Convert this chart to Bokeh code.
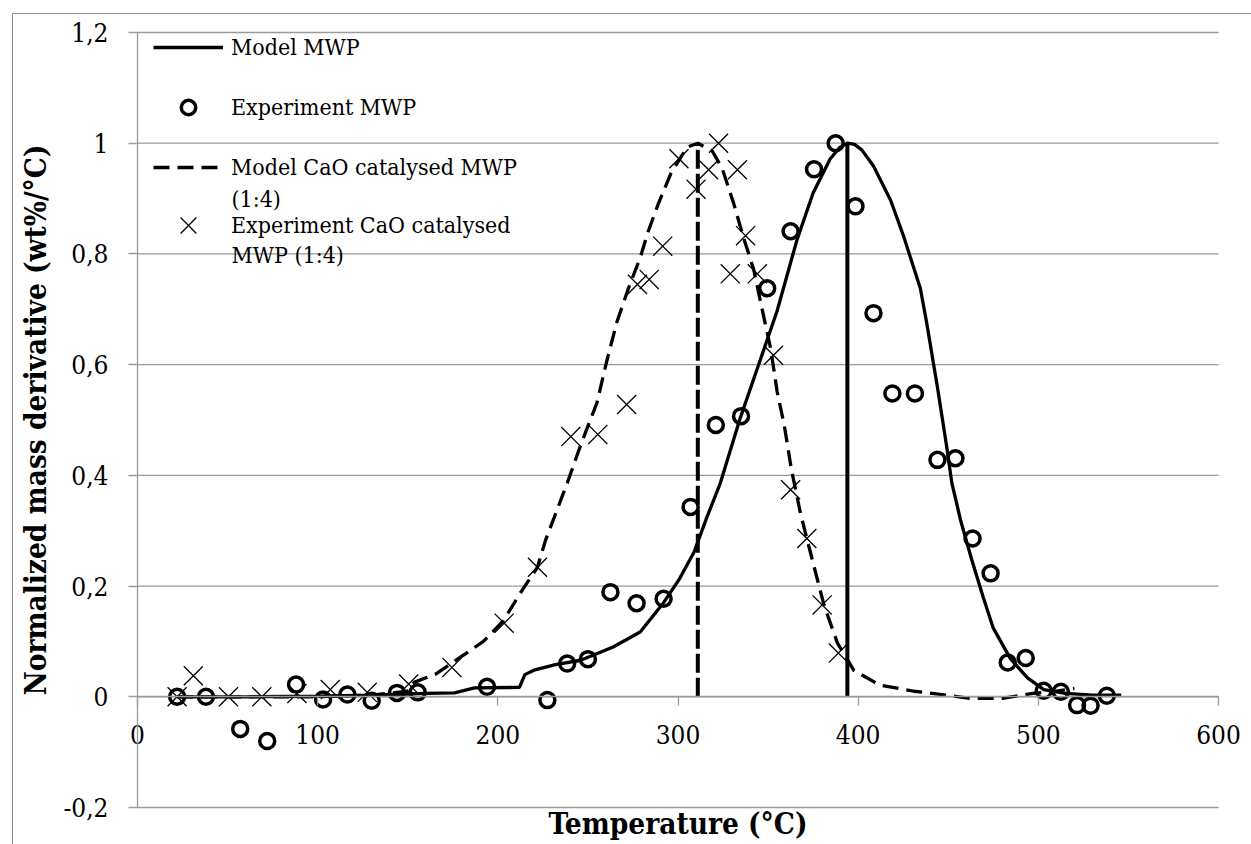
from bokeh.plotting import figure
from bokeh.models import (Range1d, LinearAxis, FixedTicker, CustomJSTickFormatter,
                          Legend, LegendItem, Label, ColumnDataSource)
from bokeh.embed import file_html
from bokeh.resources import INLINE

# ---------------- data ----------------
exp_mwp_T = [22, 38, 57, 72, 88, 103, 116.5, 130, 144, 155.5, 194, 227.5, 238.5, 250,
             262.5, 277, 292, 307, 321, 335, 349.5, 362.5, 375.5, 387.5, 398.5, 408.5,
             419, 431.5, 444, 454, 463.5, 473.5, 483, 493, 503, 512.5, 521.5, 529, 538]
exp_mwp_v = [0.0, 0.0, -0.058, -0.08, 0.022, -0.005, 0.004, -0.007, 0.007, 0.008, 0.018,
             -0.006, 0.06, 0.068, 0.189, 0.169, 0.177, 0.343, 0.491, 0.507, 0.738, 0.841,
             0.953, 1.0, 0.886, 0.693, 0.548, 0.548, 0.428, 0.431, 0.286, 0.223, 0.062,
             0.07, 0.011, 0.009, -0.015, -0.016, 0.002]

exp_cao_T = [22, 31, 50.5, 69, 88.5, 107, 127.5, 150.5, 174.5, 203.5, 222, 240.5, 255.5,
             271.5, 277.5, 284, 291.5, 300.5, 310, 317, 322.5, 329, 333, 337.5, 344, 353,
             362.5, 371.5, 380, 389]
exp_cao_v = [0.0, 0.038, 0.0, 0.0, 0.006, 0.013, 0.008, 0.023, 0.053, 0.133, 0.234, 0.47,
             0.474, 0.528, 0.745, 0.754, 0.814, 0.972, 0.917, 0.952, 1.0, 0.764, 0.952,
             0.833, 0.764, 0.617, 0.374, 0.286, 0.166, 0.079]

model_mwp_T = [22, 60, 100, 130, 150, 160, 176, 187, 212, 215, 220, 232, 246, 264, 279,
               292, 301, 309, 316, 323.5, 334.5, 345.5, 355, 366, 375, 384.5, 390, 394,
               398, 402, 408.5, 418, 425, 434.5, 438, 444, 449, 452, 457, 463, 469.5, 475,
               484.5, 494, 503, 515, 530, 546]
model_mwp_v = [0, 0, 0.001, 0.003, 0.005, 0.006, 0.007, 0.016, 0.017, 0.04, 0.048, 0.058,
               0.066, 0.09, 0.117, 0.17, 0.214, 0.262, 0.324, 0.386, 0.503, 0.607, 0.697,
               0.825, 0.91, 0.972, 0.993, 1.0, 0.998, 0.988, 0.959, 0.897, 0.834, 0.738,
               0.676, 0.559, 0.455, 0.386, 0.317, 0.248, 0.179, 0.124, 0.069, 0.034,
               0.013, 0.006, 0.003, 0.003]

model_cao_T = [22, 100, 130, 150, 153.5, 165.5, 179, 192, 203, 212, 222, 226.5, 238.5,
               246, 255, 260.5, 266, 272.5, 279, 283.5, 289, 296, 305, 311, 319, 324.5,
               331, 336.5, 342, 346.5, 351.5, 355, 359, 363, 368, 374.5, 381, 388.5,
               397.5, 412, 431, 449, 462, 480, 497, 510, 520]
model_cao_v = [0, 0, 0.003, 0.01, 0.026, 0.041, 0.071, 0.1, 0.137, 0.185, 0.234, 0.283,
               0.386, 0.455, 0.531, 0.607, 0.676, 0.738, 0.793, 0.841, 0.89, 0.945, 0.993,
               1.0, 0.986, 0.955, 0.89, 0.828, 0.772, 0.703, 0.628, 0.552, 0.49, 0.41,
               0.331, 0.248, 0.166, 0.097, 0.048, 0.021, 0.01, 0.003, -0.003, -0.003,
               0.006, 0.01, 0.015]

# peak markers (vertical lines)
peak_mwp_T = [394]
peak_cao_T = [311]
peak_base = [0]
peak_top = [1.0]

x_ticks = [0, 100, 200, 300, 400, 500, 600]
y_ticks = [-0.2, 0, 0.2, 0.4, 0.6, 0.8, 1.0, 1.2]

legend_labels = ["Model MWP", "Experiment MWP", "Model CaO catalysed MWP",
                 "Experiment CaO catalysed"]
legend_second_lines = ["(1:4)", "MWP (1:4)"]

x_title = "Temperature (°C)"
y_title = "Normalized mass derivative (wt%/°C)"

# ---------------- styling ----------------
FONT = "DejaVu Serif Condensed, DejaVu Serif"
GRAY = "#9a9a9a"
BORDER = "#8c8c8c"
TICK_FS = "26px"
LEG_FS = "23px"
TITLE_FS = "29.5px"

W, H = 1251, 844
FL, FR, FT, FB = 137, 1218, 32, 807          # plot-area edges in pixels
xppu = (FR - FL) / (x_ticks[-1] - x_ticks[0])
yppu = (FB - FT) / (y_ticks[-1] - y_ticks[0])
x_start = x_ticks[0] - FL / xppu
x_end = x_ticks[-1] + (W - FR) / xppu
y_end = y_ticks[-1] + FT / yppu
y_start = y_ticks[0] - (H - FB) / yppu

p = figure(width=W, height=H, output_backend="svg", toolbar_location=None,
           x_range=Range1d(x_start, x_end), y_range=Range1d(y_start, y_end),
           x_axis_location=None, y_axis_location=None,
           min_border_left=0, min_border_right=0, min_border_top=0, min_border_bottom=0)
p.outline_line_color = None
p.background_fill_alpha = 0
p.border_fill_alpha = 0
p.grid.visible = False
p.styles = {
    "background": (f"linear-gradient({BORDER},{BORDER}) 12px 13px / 1px 900px no-repeat, "
                   f"linear-gradient({BORDER},{BORDER}) 12px 13px / 1400px 1px no-repeat, "
                   "white")
}

# horizontal gridlines across the plot area
p.segment(x0=x_ticks[0], x1=x_ticks[-1], y0=y_ticks, y1=y_ticks,
          line_color=GRAY, line_width=1.3, level="underlay")

# y axis at x = 0
ya = LinearAxis(fixed_location=x_ticks[0], bounds=(y_ticks[0], y_ticks[-1]),
                ticker=FixedTicker(ticks=y_ticks))
ya.formatter = CustomJSTickFormatter(code="""
const v = Math.round(tick*10)/10;
return v.toString().replace('.', ',');
""")
ya.axis_line_color = GRAY
ya.axis_line_width = 1.3
ya.major_tick_line_color = GRAY
ya.major_tick_line_width = 1.3
ya.major_tick_out = 9
ya.major_tick_in = 0
ya.minor_tick_line_color = None
ya.major_label_standoff = 20
ya.major_label_text_font = FONT
ya.major_label_text_font_size = TICK_FS
ya.major_label_text_color = "black"
ya.axis_label = y_title
ya.axis_label_text_font = FONT
ya.axis_label_text_font_style = "bold"
ya.axis_label_text_font_size = TITLE_FS
ya.axis_label_text_color = "black"
ya.axis_label_standoff = 7
p.add_layout(ya, "left")

# x axis crossing at y = 0
xa = LinearAxis(fixed_location=0, bounds=(x_ticks[0], x_ticks[-1]),
                ticker=FixedTicker(ticks=x_ticks))
xa.axis_line_color = GRAY
xa.axis_line_width = 1.3
xa.major_tick_line_color = GRAY
xa.major_tick_line_width = 1.3
xa.major_tick_out = 9
xa.major_tick_in = 0
xa.minor_tick_line_color = None
xa.major_label_standoff = 19
xa.major_label_text_font = FONT
xa.major_label_text_font_size = TICK_FS
xa.major_label_text_color = "black"
xa.axis_label = x_title
xa.axis_label_text_font = FONT
xa.axis_label_text_font_style = "bold"
xa.axis_label_text_font_size = TITLE_FS
xa.axis_label_text_color = "black"
xa.axis_label_standoff = 59
p.add_layout(xa, "below")

# ---------------- glyphs ----------------
src_model_mwp = ColumnDataSource(dict(x=model_mwp_T, y=model_mwp_v))
src_model_cao = ColumnDataSource(dict(x=model_cao_T, y=model_cao_v))
src_exp_mwp = ColumnDataSource(dict(x=exp_mwp_T, y=exp_mwp_v))
src_exp_cao = ColumnDataSource(dict(x=exp_cao_T, y=exp_cao_v))

r_model_mwp = p.line("x", "y", source=src_model_mwp, line_color="black", line_width=3.3)
r_model_cao = p.line("x", "y", source=src_model_cao, line_color="black", line_width=3.3,
                     line_dash="16 8")
p.segment(x0=peak_mwp_T, y0=peak_base, x1=peak_mwp_T, y1=peak_top,
          line_color="black", line_width=4)
p.segment(x0=peak_cao_T, y0=peak_base, x1=peak_cao_T, y1=peak_top,
          line_color="black", line_width=4, line_dash="19 5")
r_exp_cao = p.scatter("x", "y", source=src_exp_cao, marker="x", size=27,
                      line_color="black", line_width=1.3)
r_exp_mwp = p.scatter("x", "y", source=src_exp_mwp, marker="circle", size=15,
                      fill_color=None, line_color="black", line_width=3.5)


def style_legend(lg, gh):
    lg.padding = 0
    lg.margin = 0
    lg.spacing = 24
    lg.glyph_width = 70
    lg.glyph_height = gh
    lg.label_height = gh
    lg.label_standoff = 8
    lg.border_line_color = None
    lg.background_fill_alpha = 0
    lg.label_text_font = FONT
    lg.label_text_font_size = LEG_FS
    lg.label_text_color = "black"


# ---------------- legend ----------------
legend_a = Legend(items=[
    LegendItem(label=legend_labels[0], renderers=[r_model_mwp]),
    LegendItem(label=legend_labels[1], renderers=[r_exp_mwp]),
    LegendItem(label=legend_labels[2], renderers=[r_model_cao]),
], location=(FL + 16, H - 185))
style_legend(legend_a, 36)
p.add_layout(legend_a)

legend_b = Legend(items=[
    LegendItem(label=legend_labels[3], renderers=[r_exp_cao]),
], location=(FL + 16, H - 253))
style_legend(legend_b, 56)
p.add_layout(legend_b)

for txt, ty in zip(legend_second_lines, [198, 254]):
    p.add_layout(Label(x=231, y=H - ty, x_units="screen", y_units="screen", text=txt,
                       text_baseline="middle", text_align="left",
                       text_font=FONT, text_font_size=LEG_FS, text_color="black"))

open("out.html", "w").write(file_html(p, INLINE))
